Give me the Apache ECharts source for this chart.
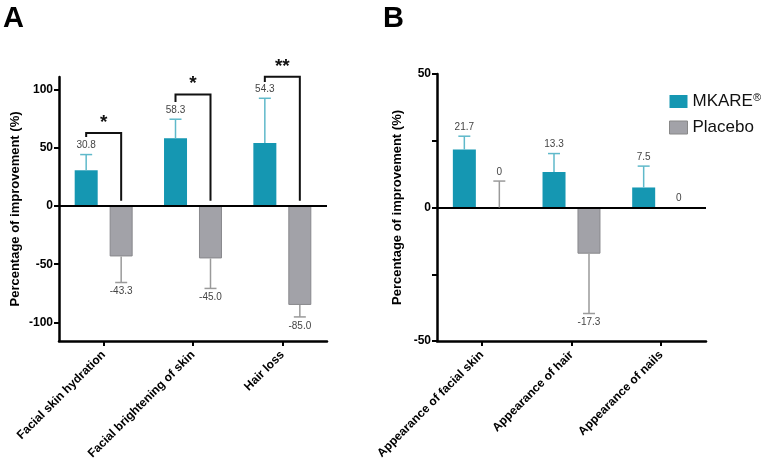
<!DOCTYPE html>
<html>
<head>
<meta charset="utf-8">
<script src="https://cdn.jsdelivr.net/npm/echarts@6/dist/echarts.min.js"></script>
<style>
  html, body { margin: 0; padding: 0; background: #fff; }
  #chart { width: 767px; height: 465px; }
</style>
</head>
<body>
<div id="chart"></div>
<script>
var catsA = ['Facial skin hydration', 'Facial brightening of skin', 'Hair loss'];
var mkareA = [30.8, 58.3, 54.3];
var mkareErrA = [13.5, 16.4, 38.4];
var placeboA = [-43.3, -45.0, -85.0];
var placeboErrA = [-22.4, -25.8, -10.3];
// significance brackets: [left leg end, bracket top, right leg end, star y]
var bracketA = [[59.5, 62.9, 4.5, 72], [89.5, 95.9, 4.5, 105], [106.7, 111.3, 4.5, 120]];
var starsA = ['*', '*', '**'];

var catsB = ['Appearance of facial skin', 'Appearance of hair', 'Appearance of nails'];
var mkareB = [21.7, 13.3, 7.5];
var mkareErrB = [5.0, 6.9, 8.0];
var placeboB = [0, -17.3, 0];
var placeboErrB = [9.9, -22.4, 0];

var tealC = '#1597b2', tealErr = '#5fb9ca', grayC = '#a2a2a8', grayErr = '#9a9a9a';
var barOff = 17.5;

var myChart = echarts.init(document.getElementById('chart'));

function pack(vals, errs) {
  var out = [];
  for (var i = 0; i < vals.length; i++) out.push([i, vals[i], errs[i]]);
  return out;
}

function errRender(offset, color) {
  return function (params, api) {
    var c = api.value(0), v = api.value(1), e = api.value(2);
    var base = api.coord([c, v]);
    var end = api.coord([c, v + e]);
    var x = base[0] + offset;
    var kids = [];
    if (e !== 0) {
      kids.push({ type: 'line', shape: { x1: x, y1: base[1], x2: x, y2: end[1] }, style: { stroke: color, lineWidth: 1.5 } });
      kids.push({ type: 'line', shape: { x1: x - 6, y1: end[1], x2: x + 6, y2: end[1] }, style: { stroke: color, lineWidth: 1.5 } });
    }
    var up = e >= 0;
    kids.push({
      type: 'text',
      style: {
        text: v === 0 ? '0' : v.toFixed(1),
        x: x, y: end[1] + (up ? -9 : 9),
        align: 'center', verticalAlign: 'middle',
        font: '10px "Liberation Sans", Arial, sans-serif', fill: '#444'
      }
    });
    return { type: 'group', children: kids };
  };
}

function bracketRender(params, api) {
  var i = params.dataIndex;
  var b = bracketA[i];
  var cx = api.coord([i, 0])[0];
  var xl = cx - barOff, xr = cx + barOff;
  var pl = api.coord([i, b[0]])[1], pt = api.coord([i, b[1]])[1], pr = api.coord([i, b[2]])[1];
  var ps = api.coord([i, b[3]])[1];
  return {
    type: 'group',
    children: [
      { type: 'polyline', shape: { points: [[xl, pl], [xl, pt], [xr, pt], [xr, pr]] }, style: { stroke: '#111', lineWidth: 2, fill: null } },
      { type: 'text', style: { text: starsA[i], x: cx, y: ps, align: 'center', verticalAlign: 'middle', font: 'bold 19px "Liberation Sans", Arial, sans-serif', fill: '#111' } }
    ]
  };
}

var axisFont = { color: '#000', fontWeight: 'bold', fontSize: 12, fontFamily: '"Liberation Sans", Arial, sans-serif' };
var blackLine = { show: true, onZero: false, lineStyle: { color: '#000', width: 2.5 } };
var blackTick = { show: true, length: 5, lineStyle: { color: '#000', width: 2 } };

function xAx(idx, cats) {
  return {
    type: 'category', gridIndex: idx, data: cats,
    axisLine: blackLine,
    axisTick: { show: true, length: 5, alignWithLabel: true, lineStyle: { color: '#000', width: 2 } },
    axisLabel: Object.assign({ rotate: 45, margin: 12, interval: 0 }, axisFont)
  };
}

function yAx(idx, min, max, ticks, labels, gap) {
  return {
    type: 'value', gridIndex: idx, min: min, max: max,
    name: 'Percentage of improvement (%)', nameLocation: 'middle', nameGap: gap,
    nameTextStyle: { color: '#000', fontWeight: 'bold', fontSize: 13, fontFamily: '"Liberation Sans", Arial, sans-serif' },
    splitLine: { show: false },
    axisLine: { show: true, lineStyle: { color: '#000', width: 2.5 } },
    axisTick: Object.assign({ customValues: ticks }, blackTick),
    axisLabel: Object.assign({ customValues: labels, margin: 6 }, axisFont)
  };
}

var zeroLine = {
  silent: true, symbol: 'none', label: { show: false },
  lineStyle: { color: '#000', width: 2, type: 'solid' },
  data: [{ yAxis: 0 }]
};

var option = {
  animation: false,
  backgroundColor: '#fff',
  textStyle: { fontFamily: '"Liberation Sans", Arial, sans-serif' },
  graphic: [
    { type: 'text', left: 3, top: 4, style: { text: 'A', font: 'bold 29px "Liberation Sans", Arial, sans-serif', fill: '#000' } },
    { type: 'text', left: 383, top: 4, style: { text: 'B', font: 'bold 29px "Liberation Sans", Arial, sans-serif', fill: '#000' } }
  ],
  legend: {
    left: 664, top: 87, orient: 'vertical', itemWidth: 18, itemHeight: 13, itemGap: 9,
    icon: 'rect',
    data: [
      { name: 'MKARE', itemStyle: { color: tealC } },
      { name: 'Placebo', itemStyle: { color: grayC, borderColor: '#888', borderWidth: 1 } }
    ],
    formatter: function (n) { return n === 'MKARE' ? '{a|MKARE}{s|®}' : '{a|' + n + '}'; },
    textStyle: {
      rich: {
        a: { fontSize: 17, color: '#111', fontFamily: '"Liberation Sans", Arial, sans-serif' },
        s: { fontSize: 11, color: '#111', verticalAlign: 'top', padding: [0, 0, 8, 0] }
      }
    }
  },
  grid: [
    { left: 59, right: 440, top: 77, bottom: 124 },
    { left: 437, right: 61, top: 74, bottom: 124 }
  ],
  xAxis: [xAx(0, catsA), xAx(1, catsB)],
  yAxis: [
    yAx(0, -116, 111, [-100, -50, 0, 50, 100], [-100, -50, 0, 50, 100], 37),
    yAx(1, -50, 50, [-50, -25, 0, 25, 50], [-50, 0, 50], 33)
  ],
  series: [
    { name: 'MKARE', type: 'bar', xAxisIndex: 0, yAxisIndex: 0, data: mkareA, barWidth: 23, barGap: '52%', itemStyle: { color: tealC }, markLine: zeroLine },
    { name: 'Placebo', type: 'bar', xAxisIndex: 0, yAxisIndex: 0, data: placeboA, barWidth: 23, barGap: '52%', itemStyle: { color: grayC, borderColor: '#88888c', borderWidth: 1 } },
    { name: 'MKARE', type: 'bar', xAxisIndex: 1, yAxisIndex: 1, data: mkareB, barWidth: 23, barGap: '52%', itemStyle: { color: tealC }, markLine: zeroLine },
    { name: 'Placebo', type: 'bar', xAxisIndex: 1, yAxisIndex: 1, data: placeboB, barWidth: 23, barGap: '52%', itemStyle: { color: grayC, borderColor: '#88888c', borderWidth: 1 } },
    { type: 'custom', xAxisIndex: 0, yAxisIndex: 0, clip: false, z: 5, data: pack(mkareA, mkareErrA), renderItem: errRender(-barOff, tealErr) },
    { type: 'custom', xAxisIndex: 0, yAxisIndex: 0, clip: false, z: 5, data: pack(placeboA, placeboErrA), renderItem: errRender(barOff, grayErr) },
    { type: 'custom', xAxisIndex: 1, yAxisIndex: 1, clip: false, z: 5, data: pack(mkareB, mkareErrB), renderItem: errRender(-barOff, tealErr) },
    { type: 'custom', xAxisIndex: 1, yAxisIndex: 1, clip: false, z: 5, data: pack(placeboB, placeboErrB), renderItem: errRender(barOff, grayErr) },
    { type: 'custom', xAxisIndex: 0, yAxisIndex: 0, clip: false, z: 6, data: [0, 1, 2], renderItem: bracketRender }
  ]
};

myChart.setOption(option);
</script>
</body>
</html>
